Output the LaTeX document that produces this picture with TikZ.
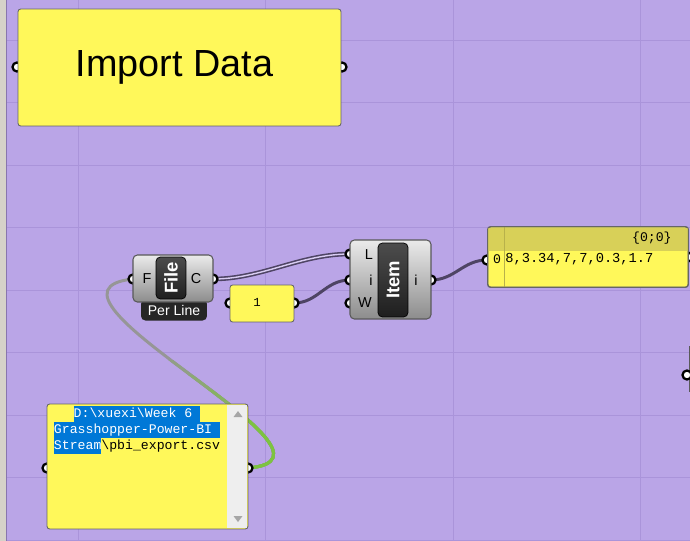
\documentclass[tikz,border=0pt]{standalone}
\usepackage{fontspec}
\usepackage{graphicx}
\setmainfont{Liberation Sans}
\setmonofont{Liberation Mono}
\usetikzlibrary{positioning}
\definecolor{canvaspurple}{RGB}{186,165,231}
\definecolor{gridline}{RGB}{170,148,218}
\definecolor{stripgray}{RGB}{214,210,201}
\definecolor{panelyellow}{RGB}{255,248,90}
\definecolor{headyellow}{RGB}{216,208,88}
\definecolor{wiredark}{RGB}{78,68,100}
\definecolor{wiregray}{RGB}{150,150,150}
\definecolor{wiregreen}{RGB}{125,195,65}
\definecolor{selblue}{RGB}{0,120,215}
\definecolor{scrollgray}{RGB}{238,238,238}
\pgfdeclarelayer{canvas}
\pgfdeclarelayer{wires}
\pgfsetlayers{canvas,wires,main}
\newcommand{\selbox}[1]{{\setlength{\fboxsep}{0pt}\colorbox{selblue}{\strut\textcolor{white}{#1}}}}
\newcommand{\monosp}{\hspace{0.6em}}

\begin{document}
\begin{tikzpicture}[
    x=0.02cm, y=-0.02cm,
    panel/.style={rectangle, draw=black!60, fill=panelyellow, rounded corners=1.5pt, inner sep=0pt, line width=0.5pt},
    compbody/.style={rectangle, draw=black!65, top color=black!8, bottom color=black!45, rounded corners=2.5pt, inner sep=0pt, line width=0.6pt},
    compicon/.style={rectangle, draw=black, top color=black!70, bottom color=black!88, rounded corners=2.5pt, inner sep=0pt, text=white, font=\fontsize{10.5}{12}\selectfont\bfseries},
    portlabel/.style={inner sep=0pt, font=\fontsize{8.2}{9}\selectfont},
    grip/.style={circle, draw=black, fill=white, line width=1.3pt, minimum size=0.18cm, inner sep=0pt},
    wire/.style={line width=1.7pt, draw=wiredark},
    listwire/.style={line width=0.9pt, draw=wiredark, double=canvaspurple!55!white, double distance=0.8pt},
    monotext/.style={inner sep=0pt, font=\ttfamily\fontsize{7.5}{9.07}\selectfont},
]
\useasboundingbox (0,0) rectangle (690,541);

% Canvas
\begin{pgfonlayer}{canvas}
\fill[canvaspurple] (0,0) rectangle (690,541);
\foreach \gx in {78,265.5,453,640.5}
    \draw[gridline, line width=0.4pt] (\gx,0) -- (\gx,541);
\foreach \gy in {40,102.5,...,540}
    \draw[gridline, line width=0.4pt] (0,\gy) -- (690,\gy);
\fill[stripgray] (0,0) rectangle (6,541);
\draw[gridline!80!black, line width=0.4pt] (6.3,0) -- (6.3,541);
\end{pgfonlayer}

% Import Data
\node[grip] (importIn) at (17,67) {};
\node[grip] (importOut) at (342,67) {};
\node[panel, minimum width=6.46cm, minimum height=2.34cm, font=\fontsize{21.5}{24}\selectfont] (importData) at (179.5,67.5) {Import Data\rule{0.2cm}{0pt}};

% File component
\node[grip] (fileF) at (133,279) {};
\node[grip] (fileC) at (213,279) {};
\node[rectangle, fill=black!85, rounded corners=2.5pt, minimum width=1.32cm, minimum height=0.42cm, inner sep=0pt, text=white, font=\fontsize{8}{9}\selectfont] (fileTab) at (174,310) {Per Line};
\node[compbody, minimum width=1.6cm, minimum height=0.94cm] (fileBody) at (173,278.5) {};
\node[compicon, minimum width=0.6cm, minimum height=0.84cm] (fileIcon) at (171,278) {\rotatebox{90}{File}};
\node[portlabel] (fileLabelF) at (147,279) {F};
\node[portlabel] (fileLabelC) at (196,279) {C};

% Number panel
\node[grip] (oneIn) at (230,303) {};
\node[grip] (oneOut) at (294,303) {};
\node[panel, minimum width=1.28cm, minimum height=0.74cm] (oneBox) at (262,303.5) {};
\node[monotext, font=\ttfamily\fontsize{7}{8}\selectfont] (oneText) at (257,302) {1};

% Item component
\node[grip] (itemL) at (350,254) {};
\node[grip] (itemI) at (350,280) {};
\node[grip] (itemW) at (350,303) {};
\node[grip] (itemOut) at (431,280) {};
\node[compbody, minimum width=1.62cm, minimum height=1.58cm] (itemBody) at (390.5,279.5) {};
\node[compicon, minimum width=0.6cm, minimum height=1.48cm] (itemIcon) at (393,280) {\rotatebox{90}{Item}};
\node[portlabel] (itemLabelL) at (369,255) {L};
\node[portlabel] (itemLabelI) at (371,280) {i};
\node[portlabel] (itemLabelW) at (365,303) {W};
\node[portlabel] (itemLabelOut) at (416,280) {i};

% Result panel
\node[grip] (resultIn) at (487,260) {};
\node[grip] (resultOut) at (688,257) {};
\node[panel, minimum width=4cm, minimum height=1.2cm] (result) at (588,257) {};
\fill[headyellow] (488.4,227.6) rectangle (687.6,251);
\draw[headyellow!85!black, line width=0.4pt] (504,227) -- (504,287);
\draw[black!60, line width=0.5pt, rounded corners=1.5pt] (result.south west) rectangle (result.north east);
\node[monotext, anchor=east] (resultPath) at (672,238) {\{0;0\}};
\node[monotext] (resultIdx) at (497,259) {0};
\node[monotext, anchor=west, font=\ttfamily\fontsize{7.8}{9.07}\selectfont] (resultRow) at (505,259) {8,3.34,7,7,0.3,1.7};

% File path panel
\node[grip] (pathIn) at (47,468) {};
\node[grip] (pathOut) at (248,468) {};
\node[panel, minimum width=4.02cm, minimum height=2.5cm] (pathPanel) at (147.5,466.5) {};
\fill[scrollgray] (227,404.6) rectangle (247.4,528.4);
\fill[black!35] (233.5,417) -- (242.5,417) -- (238,411) -- cycle;
\fill[black!35] (233.5,516) -- (242.5,516) -- (238,522) -- cycle;
\node[monotext, text width=3.6cm, align=center, anchor=north] (pathText) at (137,406)
    {\selbox{D:\textbackslash xuexi\textbackslash Week\monosp 6\monosp}\\
     \selbox{Grasshopper-Power-BI\monosp}\\
     \selbox{Stream}\textbackslash pbi\_export.csv};

% Component cut off at the right edge
\draw[black!65, line width=1pt] (689.5,346) -- (689.5,392);
\node[grip] (edgeGrip) at (687,375) {};

% Wires
\begin{pgfonlayer}{wires}
\draw[listwire] (fileC.center) .. controls (262,279) and (300,254) .. (itemL.center);
\draw[wire] (oneOut.center) .. controls (318,303) and (325,280) .. (itemI.center);
\draw[wire] (itemOut.center) .. controls (455,280) and (463,260) .. (resultIn.center);
\draw[line width=1.7pt, wiregray] (pathOut.center) .. controls (370,458) and (10,292) .. (fileF.center);
\foreach \cuty/\pct in {360/20,375/40,390/60,405/80,420/100} {
    \begin{scope}
    \clip (0,\cuty) rectangle (690,541);
    \draw[line width=1.7pt, wiregreen!\pct!wiregray] (pathOut.center) .. controls (370,458) and (10,292) .. (fileF.center);
    \end{scope}
}
\end{pgfonlayer}
\end{tikzpicture}
\end{document}
